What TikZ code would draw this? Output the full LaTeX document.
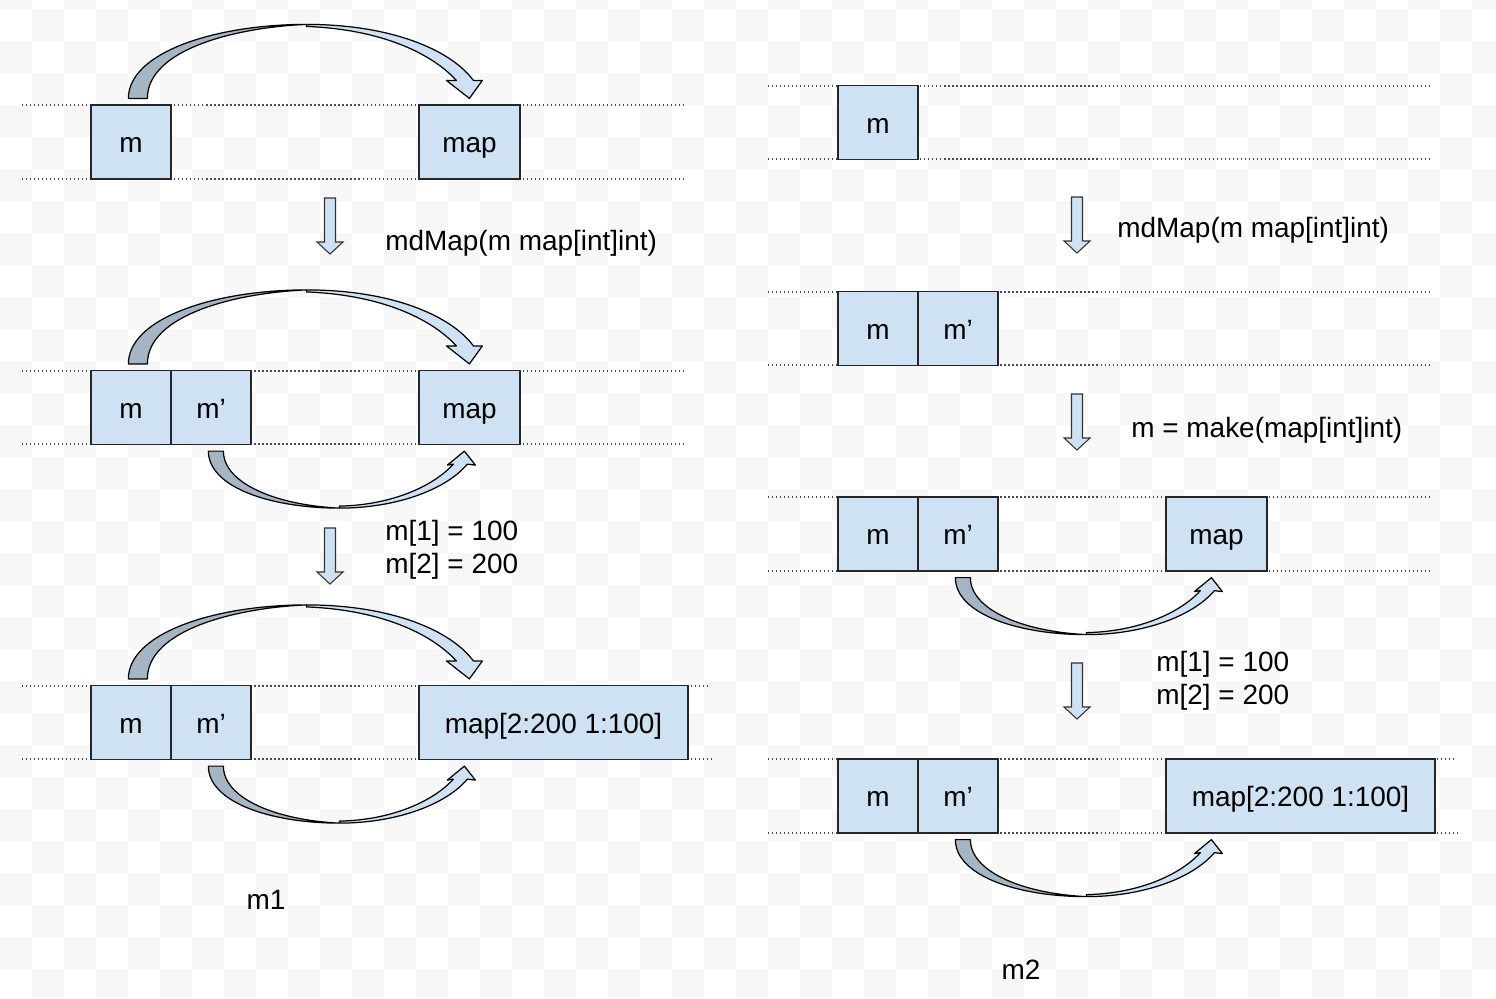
\documentclass[tikz,border=0pt]{standalone}
\usepackage{fontspec}
\setmainfont{Liberation Sans}
\usetikzlibrary{calc}

\definecolor{boxblue}{RGB}{207,226,243}
\definecolor{backblue}{RGB}{166,181,195}
\definecolor{checker}{RGB}{247,247,247}

\begin{document}
\begin{tikzpicture}[x=0.02cm,y=-0.02cm,
  every node/.style={font=\fontsize{15.9}{19}\selectfont},
  cell/.style={draw=black!85, line width=0.7pt, fill=boxblue, inner sep=0pt,
    minimum width=1.6cm, minimum height=1.48cm, text height=16pt, text depth=3.5pt},
  mapcell/.style={cell, minimum width=2.02cm},
  widecell/.style={cell, minimum width=5.38cm},
  note/.style={inner sep=0pt, anchor=base west},
  dotline/.style={black!70, line width=0.6pt, dash pattern=on 0.7pt off 1.58pt},
  downarrow/.style={draw=black!80, line width=0.6pt, fill=boxblue},
  frontface/.style={draw=black, line width=0.7pt, fill=boxblue, line join=round},
  backface/.style={draw=black, line width=0.7pt, fill=backblue, line join=round}]

\useasboundingbox (0,0) rectangle (1496,998);
\fill[white] (0,0) rectangle (1496,998);
\begin{scope}
\clip (0,0) rectangle (1496,998);
\foreach \i in {0,...,46}
  \foreach \j in {0,...,31} {
    \pgfmathtruncatemacro\chk{mod(\i+\j,2)}
    \ifnum\chk=0 \fill[checker] (32*\i,32*\j-23) rectangle ++(32,32); \fi
  }
\end{scope}

% dotted rows
\foreach \y in {105,179,371,444} \draw[dotline] (22,\y) -- (683,\y);
\draw[dotline] (22,686) -- (708,686);
\draw[dotline] (22,759) -- (712,759);
\foreach \y in {86,159,292,365,497,571} \draw[dotline] (768,\y) -- (1430,\y);
\draw[dotline] (768,759) -- (1455,759);
\draw[dotline] (768,833) -- (1460,833);

% m1
\node[cell] (mA1) at (131,142) {m};
\node[mapcell] (mapA1) at (469.5,142) {map};
\node[cell] (mA2) at (131,407.5) {m};
\node[cell] (mpA2) at (211,407.5) {m’};
\node[mapcell] (mapA2) at (469.5,407.5) {map};
\node[cell] (mA3) at (131,722.5) {m};
\node[cell] (mpA3) at (211,722.5) {m’};
\node[widecell] (mapA3) at (553.5,722.5) {map[2:200 1:100]};

% m2
\node[cell] (mB1) at (878,122.5) {m};
\node[cell] (mB2) at (878,328.5) {m};
\node[cell] (mpB2) at (958,328.5) {m’};
\node[cell] (mB3) at (878,534) {m};
\node[cell] (mpB3) at (958,534) {m’};
\node[mapcell] (mapB3) at (1216.5,534) {map};
\node[cell] (mB4) at (878,796) {m};
\node[cell] (mpB4) at (958,796) {m’};
\node[widecell] (mapB4) at (1300.5,796) {map[2:200 1:100]};

% arcs over the top, m -> map
\foreach \n in {mA1,mA2,mA3} {
  \begin{scope}[shift={(\n.north west)}]
    \path[frontface] (216,-80) .. controls (300,-80) and (360,-55) .. (383,-24)
      -- (392,-24) -- (379,-6) -- (356,-24) -- (366,-24)
      .. controls (340,-52) and (290,-75) .. (216,-78) -- cycle;
    \path[backface] (38,-6) .. controls (38,-52) and (125,-80) .. (216,-80)
      .. controls (145,-77) and (57,-55) .. (57,-6) -- cycle;
  \end{scope}
}

% arcs underneath, m' -> map
\foreach \n in {mpA2,mpA3,mpB3,mpB4} {
  \begin{scope}[shift={(\n.south west)}]
    \path[frontface] (169,63) .. controls (225,63) and (275,45) .. (297,19)
      -- (305,20) -- (294,6) -- (277,20) -- (283,19)
      .. controls (262,42) and (220,60) .. (169,61) -- cycle;
    \path[backface] (38,6) .. controls (38,42) and (100,63) .. (169,63)
      .. controls (105,60) and (53,38) .. (53,6) -- cycle;
  \end{scope}
}

% step arrows
\foreach \cx/\ty in {330/198, 330/528, 1077/197, 1077/394, 1077/663}
  \path[downarrow] (\cx-5.5,\ty) -- (\cx+5.5,\ty) -- (\cx+5.5,\ty+44) -- (\cx+13,\ty+44)
    -- (\cx,\ty+56) -- (\cx-13,\ty+44) -- (\cx-5.5,\ty+44) -- cycle;

\node[note] (callA) at (385,250) {mdMap(m map[int]int)};
\node[note] (setA1) at (385,540) {m[1] = 100};
\node[note] (setA2) at (385,573) {m[2] = 200};
\node[note] (callB) at (1117,237) {mdMap(m map[int]int)};
\node[note] (makeB) at (1131,437) {m = make(map[int]int)};
\node[note] (setB1) at (1156,671) {m[1] = 100};
\node[note] (setB2) at (1156,704) {m[2] = 200};

\node[anchor=base] (titleA) at (266,909) {m1};
\node[anchor=base] (titleB) at (1021,979) {m2};
\end{tikzpicture}
\end{document}
